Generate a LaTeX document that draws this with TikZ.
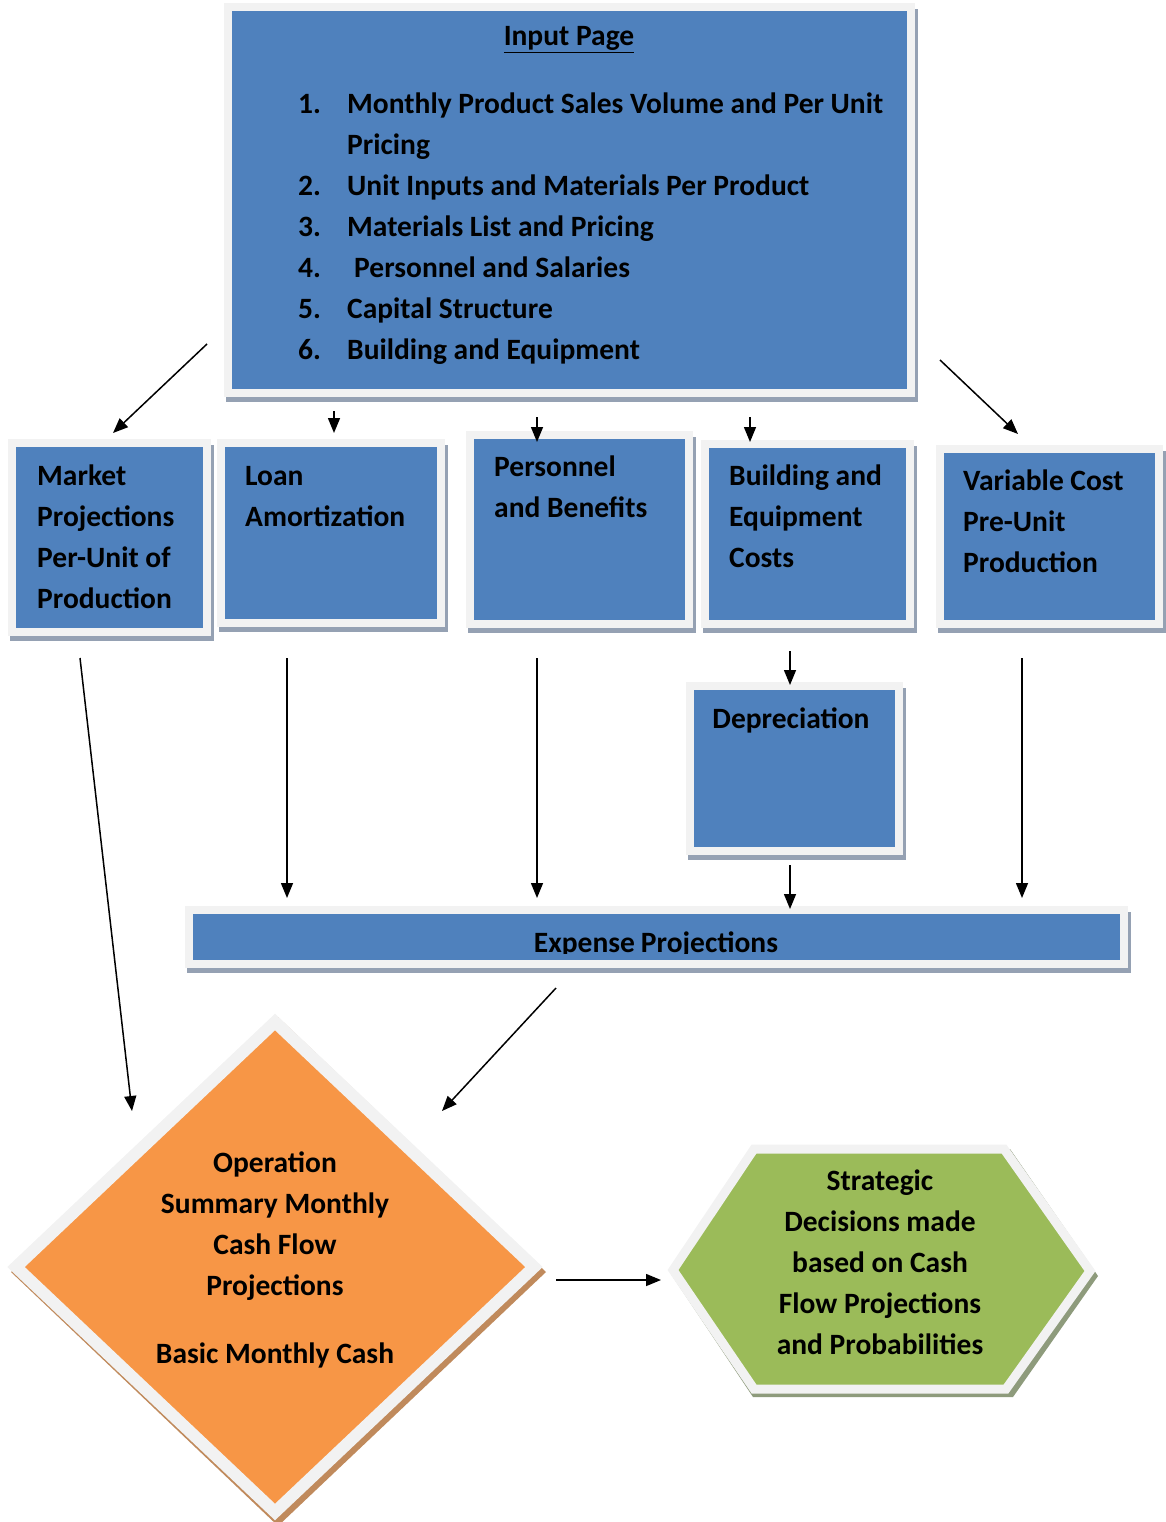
\documentclass[tikz,border=0pt]{standalone}
\usepackage{fontspec}
\setmainfont{Carlito}
\usetikzlibrary{arrows.meta,calc,shapes.geometric}
\pgfdeclarelayer{background}
\pgfsetlayers{background,main}
\definecolor{boxblue}{HTML}{4F81BD}
\definecolor{rimgrey}{HTML}{F2F2F2}
\definecolor{shadeblue}{HTML}{95A1B3}
\definecolor{shadebrown}{HTML}{C08A5C}
\definecolor{shadegreen}{HTML}{8E9B7C}
\definecolor{sumorange}{HTML}{F79646}
\definecolor{decgreen}{HTML}{9BBB59}

\begin{document}
\begin{tikzpicture}[x=1pt,y=-1pt,
  blockbox/.style={draw=rimgrey, line width=8pt, fill=boxblue, inner sep=0pt,
    outer sep=0pt, anchor=north west},
  dropstrip/.style={fill=shadeblue},
  txt/.style={font=\bfseries\fontsize{29.5}{41}\selectfont, inner sep=0pt,
    align=left, anchor=base west},
  ctxt/.style={txt, align=center, anchor=base},
  flow/.style={line width=1.5pt, -{Triangle[length=15pt,width=12pt]}}]

\useasboundingbox (0,0) rectangle (1165,1522);

% ---------- rectangular blocks ----------
\node[blockbox, minimum width=683pt, minimum height=386pt] (input) at (228,7) {};
\node[blockbox, minimum width=195pt, minimum height=189pt] (market) at (12,443) {};
\node[blockbox, minimum width=220pt, minimum height=180pt] (loan) at (221,443) {};
\node[blockbox, minimum width=219pt, minimum height=189pt] (pers) at (470,435) {};
\node[blockbox, minimum width=205pt, minimum height=180pt] (build) at (705,444) {};
\node[blockbox, minimum width=219pt, minimum height=175pt] (varc) at (940,449) {};
\node[blockbox, minimum width=209pt, minimum height=165pt] (depr) at (690,686) {};
\node[blockbox, minimum width=935pt, minimum height=54pt] (expense) at (189,910) {};

% drop shadows behind the blocks
\begin{pgfonlayer}{background}
  \foreach \b in {input,market,loan,pers,build,varc,depr,expense}
    \fill[dropstrip] ($(\b.north west)+(-2,2)$) rectangle ($(\b.south east)+(7,9)$);
\end{pgfonlayer}

% ---------- block texts (anchored at the last baseline) ----------
\node[ctxt] (inputtitle) at (569,46) {\underline{Input Page}};
\node[txt] (inputlist) at (298,359) {%
  \makebox[49pt][l]{1.}Monthly Product Sales Volume and Per Unit\\
  \hspace*{49pt}Pricing\\
  \makebox[49pt][l]{2.}Unit Inputs and Materials Per Product\\
  \makebox[49pt][l]{3.}Materials List and Pricing\\
  \makebox[49pt][l]{4.}\hspace*{7pt}Personnel and Salaries\\
  \makebox[49pt][l]{5.}Capital Structure\\
  \makebox[49pt][l]{6.}Building and Equipment};
\node[txt] (markettext) at (37,608) {Market\\Projections\\Per-Unit of\\Production};
\node[txt] (loantext) at (245,526) {Loan\\Amortization};
\node[txt] (perstext) at (494,517) {Personnel\\and Benefits};
\node[txt] (buildtext) at (729,567) {Building and\\Equipment\\Costs};
\node[txt] (varctext) at (963,572) {Variable Cost\\Pre-Unit\\Production};
\node[ctxt] (deprtext) at (791,728) {Depreciation};
\begin{scope}
  \clip (185,900) rectangle (1130,953);
  \node[ctxt] (expensetext) at (656,952) {Expense\hspace{6pt}Projections};
\end{scope}

% ---------- summary diamond ----------
\fill[shadebrown] (278,1017) -- (546,1272) -- (278,1526) -- (11,1272) -- cycle;
\node[diamond, draw=rimgrey, line width=12pt, fill=sumorange, inner sep=0pt,
  outer sep=0pt, minimum width=518pt, minimum height=490pt] (summary) at (275,1267) {};
\node[ctxt] (summarytext) at (275,1363)
  {Operation\\Summary Monthly\\Cash Flow\\Projections\\[27pt]Basic Monthly Cash};

% ---------- decision hexagon ----------
\fill[shadegreen] (753,1149) -- (1010,1149) -- (1098,1276) -- (1013,1397)
  -- (753,1397) -- (671,1274) -- cycle;
\draw[rimgrey, line width=9pt, line join=miter, fill=decgreen]
  (754,1149) -- (1004,1149) -- (1090,1271) -- (1006,1389) -- (754,1389)
  -- (673,1270) -- cycle;
\node[ctxt] (decision) at (880,1354)
  {Strategic\\Decisions made\\based on Cash\\Flow Projections\\and Probabilities};

% ---------- connector end points ----------
\coordinate (a1s) at (207,344);  \coordinate (a1e) at (113,433);
\coordinate (a2s) at (334,411);  \coordinate (a2e) at (334,433);
\coordinate (a3s) at (537,417);  \coordinate (a3e) at (537,442);
\coordinate (a4s) at (750,417);  \coordinate (a4e) at (750,442);
\coordinate (a5s) at (940,360);  \coordinate (a5e) at (1018,434);
\coordinate (a6s) at (790,651);  \coordinate (a6e) at (790,685);
\coordinate (a7s) at (287,658);  \coordinate (a7e) at (287,898);
\coordinate (a8s) at (537,658);  \coordinate (a8e) at (537,898);
\coordinate (a9s) at (790,865);  \coordinate (a9e) at (790,909);
\coordinate (a10s) at (1022,658); \coordinate (a10e) at (1022,898);
\coordinate (a11s) at (80,658);  \coordinate (a11e) at (132,1111);
\coordinate (a12s) at (556,988); \coordinate (a12e) at (442,1111);
\coordinate (a13s) at (556,1280); \coordinate (a13e) at (661,1280);

% ---------- connectors ----------
\foreach \k in {1,...,13}
  \draw[flow] (a\k s) -- (a\k e);
\end{tikzpicture}
\end{document}
